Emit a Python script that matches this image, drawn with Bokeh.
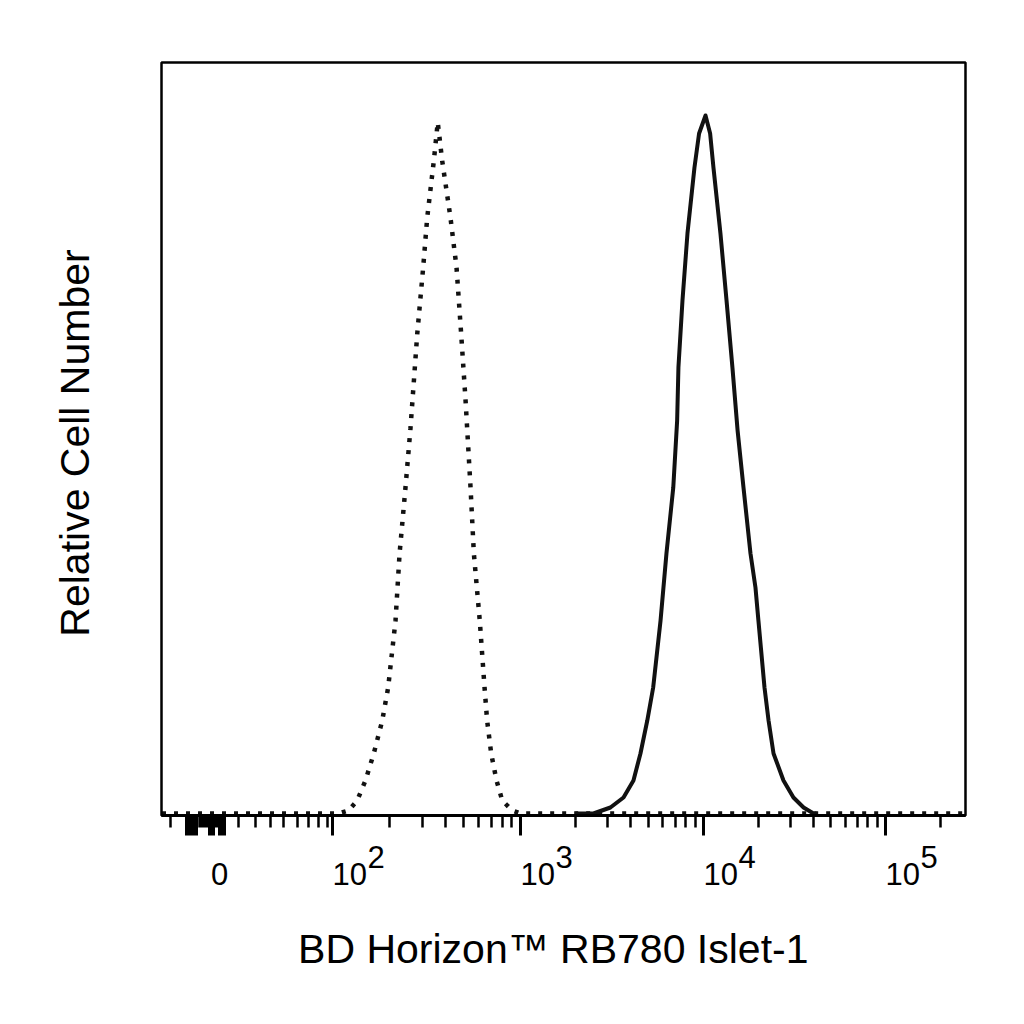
import numpy as np
from bokeh.plotting import figure
from bokeh.models import FixedTicker, CustomJSTickFormatter, Range1d, LinearAxis, BoxAnnotation
from bokeh.core.properties import value
from bokeh.embed import file_html
from bokeh.resources import INLINE

# x in logicle display units (decades), y = relative cell number (% of max)
control_x = [1.075, 2.033, 2.087, 2.134, 2.179, 2.224, 2.270, 2.302, 2.342, 2.364, 2.396,
             2.423, 2.460, 2.492, 2.514, 2.550, 2.571, 2.595, 2.640, 2.673, 2.698, 2.722,
             2.749, 2.767, 2.799, 2.825, 2.839, 2.861, 2.890, 2.921, 2.975, 3.020, 5.432]
control_y = [0, 0, 0.43, 1.86, 4.73, 8.60, 13.32, 18.05, 27.65, 37.25, 46.70,
             55.16, 68.77, 78.22, 85.39, 93.55, 99.04, 93.55, 85.39, 78.22, 68.77, 59.17,
             46.70, 37.25, 27.65, 18.05, 13.32, 8.60, 4.73, 1.86, 0.43, 0, 0]

stained_x = [3.318, 3.416, 3.508, 3.579, 3.633, 3.671, 3.708, 3.740, 3.780, 3.812, 3.849,
             3.870, 3.877, 3.899, 3.926, 3.964, 3.989, 4.024, 4.049, 4.067, 4.105, 4.138,
             4.170, 4.198, 4.230, 4.268, 4.295, 4.311, 4.344, 4.366, 4.393, 4.447, 4.501,
             4.556, 4.610, 4.626]
stained_y = [0, 0, 0.86, 2.29, 4.73, 8.60, 13.32, 18.05, 27.65, 37.25, 46.70,
             56.30, 63.90, 73.50, 83.09, 92.55, 97.42, 100.0, 97.42, 92.55, 83.09, 73.50,
             63.90, 54.87, 46.70, 37.25, 32.38, 27.65, 18.05, 13.32, 8.60, 4.73, 2.29,
             0.86, 0, 0]

# axis ticks (logicle display positions)
label_pos = [1.3869, 2.0, 3.0201, 4.0130, 5.0005]
label_base = ["0", "10", "10", "10", "10"]
label_exp = ["", "2", "3", "4", "5"]
cluster_major = [1.20781, 1.21866, 1.22952, 1.24037, 1.25122, 1.26207,
                 1.33261, 1.34346, 1.35431, 1.40125, 1.41210]
low_minor = [1.121, 1.27835, 1.28920, 1.30005, 1.31090, 1.32175, 1.36516, 1.37602,
             1.490, 1.582, 1.664, 1.734, 1.810, 1.870, 1.924, 1.973]
decade_edges = [2.0, 3.0201, 4.0130, 5.0005, 5.99]

x_title = "BD Horizon\u2122 RB780  Islet-1"
y_title = "Relative Cell Number"

# plot box (axes frame) and full canvas extents in data units
BOX_L, BOX_R, BOX_B, BOX_T = 1.0722, 5.4346, -0.2865, 107.59
CAN_L, CAN_R, CAN_B, CAN_T = 0.19859, 5.62453, -26.791, 116.476

minor = list(low_minor)
for a, b in zip(decade_edges[:-1], decade_edges[1:]):
    for k in range(2, 10):
        t = a + np.log10(k) * (b - a)
        if t < BOX_R:
            minor.append(float(t))

p = figure(width=1000, height=1000, output_backend="svg", toolbar_location=None,
           x_range=Range1d(CAN_L, CAN_R), y_range=Range1d(CAN_B, CAN_T),
           x_axis_location=None, y_axis_location=None,
           min_border_left=0, min_border_right=0, min_border_top=0, min_border_bottom=0)
p.grid.visible = False
p.background_fill_color = "white"
p.border_fill_color = "white"
p.outline_line_color = None

ax = LinearAxis(fixed_location=BOX_B, bounds=(BOX_L, BOX_R))
ax.ticker = FixedTicker(ticks=sorted(cluster_major + label_pos), minor_ticks=minor)
ax.formatter = CustomJSTickFormatter(code="return ''")
ax.axis_line_color = "black"
ax.axis_line_width = 3
ax.major_tick_in = 0
ax.major_tick_out = 20
ax.major_tick_line_width = 3
ax.major_tick_line_color = "black"
ax.minor_tick_in = 0
ax.minor_tick_out = 12
ax.minor_tick_line_width = 2.5
ax.minor_tick_line_color = "black"
p.add_layout(ax, "below")

p.add_layout(BoxAnnotation(left=BOX_L, right=BOX_R, bottom=BOX_B, top=BOX_T,
                           fill_alpha=0, line_color="black", line_alpha=1.0, line_width=2.5))

p.line(control_x, control_y, line_color="#111111", line_width=4.5, line_dash="4 8")
p.line(stained_x, stained_y, line_color="#111111", line_width=4, line_join="round")

FONT = "Liberation Sans"
base_y = -8.70
sup_y = -6.23
zero_idx = [i for i, e in enumerate(label_exp) if e == ""]
pow_idx = [i for i, e in enumerate(label_exp) if e != ""]

p.text(x=[label_pos[i] for i in zero_idx], y=[base_y] * len(zero_idx),
       text=[label_base[i] for i in zero_idx], text_font=value(FONT),
       text_font_size=value("31px"), text_align="center", text_baseline="middle",
       text_color="black")
p.text(x=[label_pos[i] for i in pow_idx], y=[base_y] * len(pow_idx),
       text=[label_base[i] for i in pow_idx], x_offset=0, text_font=value(FONT),
       text_font_size=value("31px"), text_align="left", text_baseline="middle",
       text_color="black")
p.text(x=[label_pos[i] for i in pow_idx], y=[sup_y] * len(pow_idx),
       text=[label_exp[i] for i in pow_idx], x_offset=35, text_font=value(FONT),
       text_font_size=value("31px"), text_align="left", text_baseline="middle",
       text_color="black")

p.text(x=[3.229], y=[-19.48], text=[x_title], text_font=value(FONT),
       text_font_size=value("41px"), text_align="center", text_baseline="middle",
       text_color="black")
p.text(x=[0.6055], y=[53.08], text=[y_title], text_font=value(FONT),
       text_font_size=value("41px"), text_align="center", text_baseline="middle",
       angle=np.pi / 2, text_color="black")

open("out.html", "w").write(file_html(p, INLINE))
